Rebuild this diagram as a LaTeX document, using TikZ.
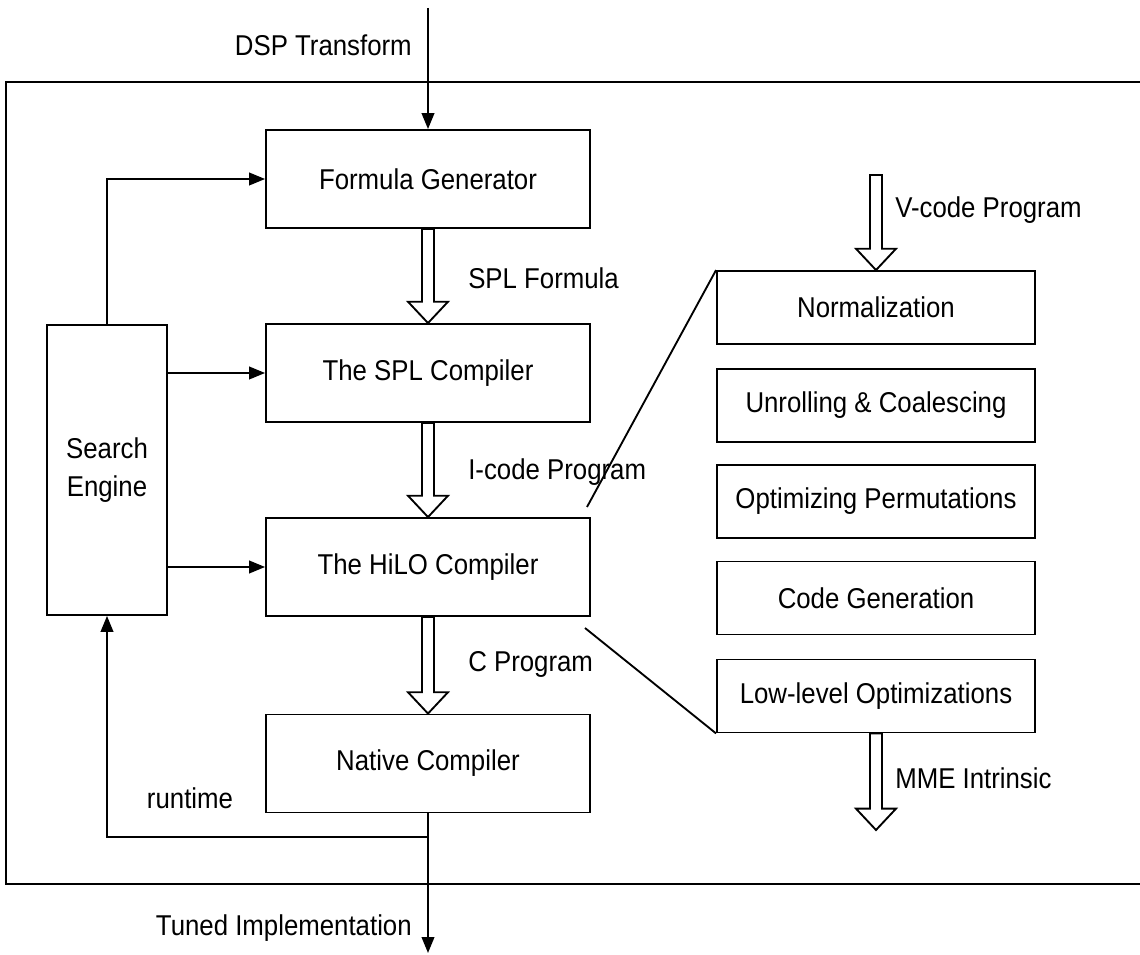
\documentclass[tikz,border=0pt]{standalone}
\usepackage{fontspec}
\setmainfont[FakeStretch=0.9]{Liberation Sans}
\usetikzlibrary{arrows.meta,calc,positioning}

% hollow block arrow, drawn from #1 down to #2
\newcommand{\fatarrow}[2]{%
  \draw[hollow] let \p1=(#1), \p2=(#2) in
    (\x1-4.5pt,\y1) -- (\x1-4.5pt,\y2-16pt) -- (\x1-15pt,\y2-16pt) -- (\x1,\y2)
    -- (\x1+15pt,\y2-16pt) -- (\x1+4.5pt,\y2-16pt) -- (\x1+4.5pt,\y1) -- cycle;}

\begin{document}
\begin{tikzpicture}[x=0.75pt,y=0.75pt,yscale=-1,xscale=1,
  every node/.style={font=\fontsize{21.5}{28.5}\selectfont},
  stage/.style={draw,line width=1.4pt,minimum width=243pt,minimum height=73.5pt},
  pass/.style={draw,line width=1.4pt,minimum width=238.5pt,minimum height=54.75pt},
  tag/.style={inner sep=0pt},
  flow/.style={line width=1.4pt,-{Triangle[length=12pt,width=9.5pt]}},
  hollow/.style={line width=1.4pt,fill=white,line join=miter}]
\useasboundingbox (0,0) rectangle (1140,955);

%Shape: outer frame, its right side runs off the page
\draw[line width=1.4pt] (1150,82) -- (6,82) -- (6,884) -- (1150,884);

%Shape: main flow
\node[stage] (formula) at (428,179) {Formula Generator};
\node[stage] (spl) at (428,373) {The SPL Compiler};
\node[stage] (hilo) at (428,567) {The HiLO Compiler};
\node[stage] (native) at (428,763.5) {Native Compiler};
\node[draw,line width=1.4pt,minimum width=90pt,minimum height=217.5pt,align=center] (search) at (107,470) {Search\\Engine};

%Shape: HiLO passes
\node[pass] (norm) at (876,307.5) {Normalization};
\node[pass] (unroll) at (876,405.5) {Unrolling \& Coalescing};
\node[pass] (perm) at (876,501.5) {Optimizing Permutations};
\node[pass] (codegen) at (876,598) {Code Generation};
\node[pass] (lowlevel) at (876,696) {Low-level Optimizations};

\coordinate (dspin) at (428,8);
\coordinate (tuned) at (428,953);
\coordinate (vin) at (876,175);
\coordinate (mmeout) at (876,830);
\coordinate (zoomtop) at (587,507);
\coordinate (zoombot) at (585,628);
\coordinate (rt) at (107,837);

%Straight Lines
\draw[flow] (dspin) -- (formula);
\draw[flow] (native.south) -- (tuned);
\draw[flow] (search.north) |- (formula.west);
\draw[flow] (search.east |- spl.west) -- (spl.west);
\draw[flow] (search.east |- hilo.west) -- (hilo.west);
\draw[flow] (native.south |- rt) -| (search.south);
\draw[line width=1.4pt] (zoomtop) -- (norm.north west);
\draw[line width=1.4pt] (zoombot) -- (lowlevel.south west);

%Block arrows
\fatarrow{formula.south}{spl.north}
\fatarrow{spl.south}{hilo.north}
\fatarrow{hilo.south}{native.north}
\fatarrow{vin}{norm.north}
\fatarrow{lowlevel.south}{mmeout}

% Text Node
\node[tag,anchor=east] (dsplabel) at (412,45) {DSP Transform};
\node[tag,anchor=west] (spllabel) at (468,278) {SPL Formula};
\node[tag,anchor=west] (icodelabel) at (468,472) {I-code Program};
\node[tag,anchor=west] (clabel) at (468,664) {C Program};
\node[tag,anchor=west] (vcodelabel) at (895,210) {V-code Program};
\node[tag,anchor=west] (mmelabel) at (895,778) {MME Intrinsic};
\node[tag] (runtimelabel) at (190,798) {runtime};
\node[tag,anchor=east] (tunedlabel) at (412,928) {Tuned Implementation};

\end{tikzpicture}
\end{document}
